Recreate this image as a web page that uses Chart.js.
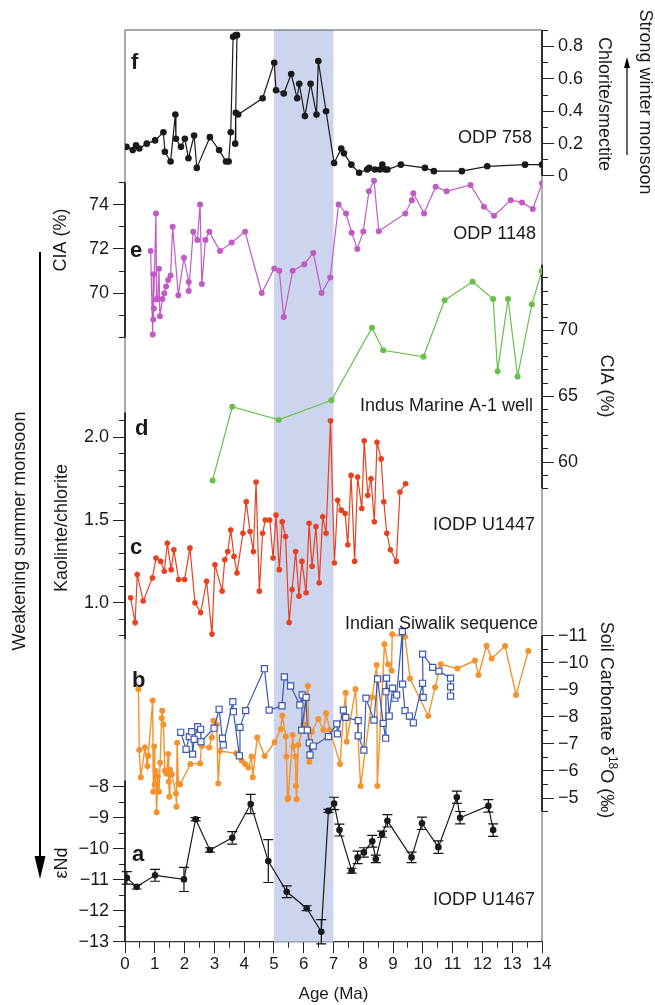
<!DOCTYPE html>
<html><head><meta charset="utf-8">
<script src="https://cdn.jsdelivr.net/npm/chart.js@4.4.1/dist/chart.umd.min.js"></script>
<style>html,body{margin:0;padding:0;background:#fff;}canvas{display:block;}</style>
</head><body>
<canvas id="c" width="655" height="1005"></canvas>
<script>
// ---------------- DATA ----------------
const ageRange = [0, 14];
const bandRange = [5, 7];
const xTickLabels = [0,1,2,3,4,5,6,7,8,9,10,11,12,13,14];

// f: ODP 758 chlorite/smectite
const odp758Age = [0.05,0.26,0.37,0.48,0.73,1.01,1.29,1.34,1.53,1.69,1.71,1.88,2.01,2.13,2.32,2.41,2.85,3.16,3.39,3.48,3.55,3.63,3.72,3.76,3.70,3.72,3.80,4.62,5.01,5.07,5.33,5.58,5.78,5.85,6.04,6.23,6.43,6.49,6.75,7.02,7.26,7.35,7.60,7.86,8.13,8.20,8.39,8.56,8.64,8.74,8.81,9.26,10.07,10.37,11.31,12.16,13.43,14.0];
const odp758Val = [0.18,0.16,0.19,0.17,0.20,0.22,0.27,0.15,0.09,0.38,0.23,0.18,0.23,0.11,0.25,0.05,0.24,0.16,0.09,0.09,0.27,0.86,0.87,0.87,0.20,0.39,0.38,0.48,0.70,0.53,0.51,0.63,0.48,0.57,0.37,0.57,0.38,0.71,0.40,0.08,0.17,0.14,0.07,0.02,0.04,0.05,0.04,0.04,0.07,0.04,0.04,0.07,0.05,0.03,0.03,0.06,0.07,0.07];

// e: ODP 1148 CIA
const odp1148Age = [0.86,0.93,0.95,0.95,0.97,1.04,1.06,1.10,1.14,1.17,1.26,1.32,1.38,1.45,1.53,1.60,1.79,1.98,2.14,2.14,2.29,2.43,2.52,2.58,2.70,2.83,3.19,3.58,4.03,4.59,5.01,5.18,5.33,5.63,6.02,6.32,6.60,6.89,7.17,7.42,7.61,7.80,8.00,8.19,8.36,8.52,9.41,9.63,9.68,10.04,10.43,10.80,11.60,12.05,12.39,12.95,13.33,13.69,14.0];
const odp1148Val = [71.91,68.14,70.86,68.81,69.31,73.6,69.71,69.76,71.1,68.96,69.74,70.0,70.3,70.6,70.8,73.0,69.91,71.6,70.51,70.1,72.77,72.4,74.01,70.41,72.4,72.77,71.9,72.29,72.77,70.01,71.12,71.01,68.93,71.01,71.31,71.82,70.01,70.71,74.01,73.6,72.73,72.0,72.79,74.6,75.08,72.8,73.6,74.2,74.51,73.6,74.81,74.6,74.89,73.9,73.5,74.2,74.1,73.8,74.96];

// d: Indus Marine A-1 well CIA
const indusAge = [2.94,3.60,5.16,6.93,8.29,8.67,10.02,10.73,11.67,12.36,12.51,12.86,13.18,13.66,13.99];
const indusVal = [58.6,64.2,63.2,64.7,70.2,68.5,68.0,72.3,73.7,72.4,66.9,72.4,66.5,72.0,74.5];

// c: IODP U1447 kaolinite/chlorite
const u1447Age = [0.19,0.34,0.41,0.61,0.92,1.04,1.20,1.32,1.42,1.55,1.64,1.80,2.00,2.18,2.35,2.54,2.74,2.92,3.02,3.26,3.35,3.45,3.55,3.66,3.76,3.96,4.07,4.20,4.31,4.40,4.51,4.62,4.71,4.86,4.97,5.07,5.18,5.28,5.39,5.51,5.61,5.73,5.84,5.94,6.08,6.18,6.28,6.41,6.52,6.64,6.75,6.90,7.03,7.14,7.26,7.39,7.48,7.59,7.71,7.81,7.95,8.03,8.15,8.26,8.37,8.46,8.60,8.69,8.79,8.91,9.11,9.23,9.42];
const u1447Val = [1.03,0.88,1.17,1.01,1.15,1.27,1.25,1.19,1.36,1.20,1.32,1.14,1.14,1.33,1.00,0.94,1.13,0.81,1.23,1.07,1.26,1.31,1.44,1.28,1.18,1.42,1.61,1.43,1.31,1.73,1.07,1.42,1.50,1.50,1.27,1.53,1.20,1.49,1.40,0.88,1.08,1.31,1.04,1.25,1.06,1.48,1.22,1.46,1.12,1.52,1.42,2.10,1.24,1.62,1.56,1.54,1.35,1.77,1.25,1.76,1.57,1.98,1.65,1.75,1.49,1.97,1.87,1.61,1.42,1.32,1.25,1.67,1.72];

// b: soil carbonate d18O (orange) and Indian Siwalik (blue squares)
const soilAge = [0.45,0.48,0.53,0.67,0.75,0.78,0.93,0.95,0.98,1.00,1.03,1.06,1.10,1.14,1.18,1.23,1.25,1.29,1.34,1.40,1.45,1.47,1.49,1.51,1.57,1.71,1.73,1.75,1.79,1.85,2.20,2.52,2.57,2.83,2.91,2.97,3.08,3.13,3.19,3.73,3.92,4.03,4.14,4.25,4.29,4.44,4.69,5.02,5.23,5.28,5.40,5.42,5.46,5.48,5.63,5.65,5.72,5.74,5.76,5.82,5.99,6.14,6.19,6.27,6.49,6.66,6.75,6.88,7.22,7.33,7.41,7.44,7.74,7.91,8.30,8.45,8.47,8.71,8.83,8.95,8.97,9.40,9.57,10.18,10.41,10.60,11.16,11.75,11.87,12.14,12.31,12.76,13.13,13.54];
const soilVal = [-9.02,-6.77,-5.77,-6.87,-6.18,-6.56,-8.60,-5.23,-6.90,-5.5,-6.0,-4.47,-5.8,-5.23,-6.3,-7.95,-8.23,-7.72,-6.01,-5.9,-6.63,-5.6,-5.05,-6.04,-5.88,-5.17,-4.68,-7.04,-5.54,-5.5,-6.26,-6.28,-6.92,-6.87,-7.24,-7.86,-7.72,-5.54,-6.74,-6.65,-6.38,-6.26,-6.13,-6.53,-5.77,-7.24,-6.55,-7.06,-7.54,-8.04,-7.27,-6.53,-4.95,-5.01,-7.33,-6.90,-6.53,-5.44,-4.95,-6.96,-7.72,-9.14,-6.34,-7.45,-7.92,-7.51,-8.13,-7.51,-6.26,-8.03,-8.89,-7.08,-9.02,-5.44,-8.72,-9.92,-5.44,-10.68,-9.94,-9.70,-11.05,-10.96,-9.42,-8.03,-9.09,-9.94,-9.79,-10.08,-9.55,-10.63,-10.16,-10.62,-8.81,-10.43];
const siwalikAge = [1.87,2.05,2.16,2.24,2.27,2.32,2.44,2.54,2.55,2.99,3.16,3.27,3.30,3.62,3.64,3.84,3.86,4.05,4.68,4.84,5.27,5.35,5.56,5.87,5.95,5.93,6.08,6.12,6.19,6.21,6.32,6.83,7.11,7.13,7.33,7.41,7.83,7.83,8.02,8.09,8.36,8.48,8.67,8.75,8.76,8.78,8.87,8.98,9.06,9.12,9.31,9.32,9.40,9.55,9.68,9.99,10.01,9.99,10.33,10.54,10.93,10.93,10.93];
const siwalikVal = [-7.43,-6.80,-7.27,-7.45,-6.62,-7.17,-7.64,-7.54,-7.08,-7.58,-8.28,-7.21,-6.96,-8.56,-8.19,-6.56,-7.61,-8.23,-9.78,-8.25,-8.41,-9.48,-9.14,-8.44,-8.81,-7.51,-8.72,-7.51,-7.04,-6.59,-6.92,-7.27,-7.74,-7.37,-8.25,-7.98,-7.86,-7.30,-6.77,-8.69,-7.88,-9.40,-7.76,-7.21,-8.93,-9.43,-8.03,-9.06,-8.69,-8.81,-11.15,-9.21,-8.23,-8.03,-7.78,-9.24,-8.72,-10.32,-9.83,-9.69,-9.43,-9.11,-8.77];

// a: IODP U1467 eNd with errors
const u1467Age = [0.06,0.39,1.01,1.98,2.37,2.85,3.60,4.22,4.81,5.43,6.10,6.59,6.83,7.02,7.20,7.61,7.81,8.02,8.30,8.42,8.63,8.81,9.62,9.97,10.52,11.14,11.25,12.20,12.36];
const u1467Val = [-10.94,-11.23,-10.86,-10.99,-9.05,-10.04,-9.65,-8.56,-10.40,-11.39,-11.92,-12.68,-8.78,-8.54,-9.40,-10.71,-10.28,-10.12,-9.76,-10.33,-9.53,-9.10,-10.28,-9.18,-9.95,-8.34,-9.00,-8.62,-9.40];
const u1467Err = [0.2,0.07,0.19,0.39,0.05,0.07,0.2,0.31,0.69,0.19,0.08,0.39,0.05,0.2,0.19,0.08,0.2,0.15,0.19,0.12,0.1,0.2,0.17,0.2,0.2,0.2,0.2,0.2,0.2];

// axis tick labels
const yFLabels = [0,0.2,0.4,0.6,0.8];
const yELabels = [70,72,74];
const yDLabels = [60,65,70];
const yCLabels = [1.0,1.5,2.0];
const yBLabels = [-11,-10,-9,-8,-7,-6,-5];
const yALabels = [-13,-12,-11,-10,-9,-8];

// ---------------- LAYOUT ----------------
const W = 655, H = 1005;
const PLOT_TOP = 30, PLOT_BOTTOM = 941.7, PLOT_LEFT = 125, PLOT_RIGHT = 542;
const FONT = '"Liberation Sans", Arial, Helvetica, sans-serif';
Chart.defaults.font.family = FONT;
Chart.defaults.color = '#1a1a1a';

function steps(a, b, s) { const out = []; const n = Math.round((b - a) / s); for (let i = 0; i <= n; i++) out.push(+(a + i * s).toFixed(4)); return out; }
function isIn(v, arr) { return arr.some(a => Math.abs(a - v) < 1e-6); }
function fitRange(v1, p1, v2, p2) {
  const at = p => v1 + (p - p1) * (v2 - v1) / (p2 - p1);
  const vt = at(PLOT_TOP), vb = at(PLOT_BOTTOM);
  return vt > vb ? {min: vb, max: vt, reverse: false} : {min: vt, max: vb, reverse: true};
}
const minus = v => (v < 0 ? '\u2212' : '') + Math.abs(v);
const axisSpans = {yF: [0, 0.9], yE: [68, 75], yD: [58, 75], yC: [0.78, 2.15], yB: [-11, -4.5], yA: [-13, -7.8]};

function yScale(pos, anchors, tickVals, labelVals, fmt) {
  const r = fitRange(...anchors);
  return {
    type: 'linear', position: pos, min: r.min, max: r.max, reverse: r.reverse,
    afterFit: s => { s.width = 0; },
    afterBuildTicks: s => { s.ticks = tickVals.map(v => ({value: v})); },
    border: {display: false},
    grid: {display: true, drawOnChartArea: false, drawTicks: true, tickLength: 12, tickColor: '#222', tickWidth: 1,
      tickBorderDash: c => (c.tick && isIn(c.tick.value, labelVals)) ? [] : (pos === 'left' ? [0, 6, 6, 100] : [6, 100])},
    ticks: {autoSkip: false, padding: 4, color: '#1a1a1a', font: {size: 18, family: FONT},
      callback: v => isIn(v, labelVals) ? fmt(v) : ''}
  };
}

function series(ages, vals, yID, color, extra) {
  return Object.assign({
    data: ages.map((a, i) => ({x: a, y: vals[i]})), yAxisID: yID, xAxisID: 'x', showLine: true,
    borderColor: color, backgroundColor: color, pointBackgroundColor: color, pointBorderColor: color,
    borderWidth: 1.2, pointRadius: 3, pointBorderWidth: 0, pointHoverRadius: 3, tension: 0
  }, extra || {});
}

const decor = {
  id: 'decor',
  afterLayout(chart) {
    // widen the zero-width y scale boxes outward so their tick labels are not clipped
    for (const id in axisSpans) {
      const s = chart.scales[id];
      if (s.position === 'left') s.left = 0; else s.right = chart.width;
      s.width = s.right - s.left;
    }
  },
  beforeDatasetsDraw(chart) {
    const {ctx, chartArea: a, scales} = chart;
    const x = scales.x;
    ctx.save();
    const xb0 = x.getPixelForValue(bandRange[0]), xb1 = x.getPixelForValue(bandRange[1]);
    ctx.fillStyle = '#cdd5ee';
    ctx.fillRect(xb0, a.top, xb1 - xb0, a.bottom - a.top);
    ctx.strokeStyle = '#555'; ctx.lineWidth = 1;
    ctx.beginPath();
    ctx.moveTo(a.left, a.bottom); ctx.lineTo(a.left, a.top); ctx.lineTo(a.right, a.top); ctx.lineTo(a.right, a.bottom);
    ctx.stroke();
    ctx.strokeStyle = '#111'; ctx.lineWidth = 1.6;
    for (const id in axisSpans) {
      const s = scales[id], sp = axisSpans[id];
      const px = s.position === 'left' ? a.left : a.right;
      ctx.beginPath(); ctx.moveTo(px, s.getPixelForValue(sp[0])); ctx.lineTo(px, s.getPixelForValue(sp[1])); ctx.stroke();
    }
    // error bars for panel a
    const yA = scales.yA;
    ctx.strokeStyle = '#111'; ctx.lineWidth = 1.2;
    u1467Age.forEach((ag, i) => {
      const px = x.getPixelForValue(ag);
      const p1 = yA.getPixelForValue(u1467Val[i] - u1467Err[i]);
      const p2 = yA.getPixelForValue(u1467Val[i] + u1467Err[i]);
      ctx.beginPath();
      ctx.moveTo(px, p1); ctx.lineTo(px, p2);
      ctx.moveTo(px - 5, p1); ctx.lineTo(px + 5, p1);
      ctx.moveTo(px - 5, p2); ctx.lineTo(px + 5, p2);
      ctx.stroke();
    });
    ctx.restore();
  },
  afterDraw(chart) {
    const ctx = chart.ctx;
    ctx.save();
    ctx.fillStyle = '#1a1a1a';
    // panel letters
    ctx.font = 'bold 22px ' + FONT; ctx.textAlign = 'left'; ctx.textBaseline = 'middle';
    [['f', 131, 63], ['e', 130, 251], ['d', 135, 429], ['c', 130, 548], ['b', 132, 681], ['a', 132, 855]]
      .forEach(([t, x, y]) => ctx.fillText(t, x, y));
    // site names
    ctx.font = '18px ' + FONT; ctx.textAlign = 'right';
    [['ODP 758', 532, 138], ['ODP 1148', 536, 234], ['Indus Marine A-1 well', 533, 406], ['IODP U1447', 535, 525],
     ['Indian Siwalik sequence', 538, 624], ['IODP U1467', 535, 900]].forEach(([t, x, y]) => ctx.fillText(t, x, y));
    // rotated titles
    const rot = (t, x, y, ang) => { ctx.save(); ctx.translate(x, y); ctx.rotate(ang); ctx.textAlign = 'center'; ctx.textBaseline = 'middle'; ctx.fillText(t, 0, 0); ctx.restore(); };
    const L = -Math.PI / 2, R = Math.PI / 2;
    rot('CIA (%)', 61, 240, L);
    rot('Kaolinte/chlorite', 62, 528, L);
    rot('Weakening summer monsoon', 20, 531, L);
    rot('\u03b5Nd', 62, 863, L);
    rot('Chlorite/smectite', 604, 104, R);
    rot('Strong winter monsoon', 645, 102, R);
    rot('CIA (%)', 606, 386, R);
    // Soil carbonate d18O with superscript
    ctx.save(); ctx.translate(606, 720); ctx.rotate(R); ctx.textBaseline = 'middle'; ctx.textAlign = 'left';
    const p1 = 'Soil Carbonate \u03b4', p2 = '18', p3 = 'O (\u2030)';
    ctx.font = '18px ' + FONT; const w1 = ctx.measureText(p1).width, w3 = ctx.measureText(p3).width;
    ctx.font = '12px ' + FONT; const w2 = ctx.measureText(p2).width;
    let sx = -(w1 + w2 + w3) / 2;
    ctx.font = '18px ' + FONT; ctx.fillText(p1, sx, 0); sx += w1;
    ctx.font = '12px ' + FONT; ctx.fillText(p2, sx, -6); sx += w2;
    ctx.font = '18px ' + FONT; ctx.fillText(p3, sx, 0);
    ctx.restore();
    // arrows
    ctx.strokeStyle = '#000'; ctx.fillStyle = '#000';
    ctx.lineWidth = 2;
    ctx.beginPath(); ctx.moveTo(40, 252); ctx.lineTo(40, 862); ctx.stroke();
    ctx.beginPath(); ctx.moveTo(34.5, 856); ctx.lineTo(45.5, 856); ctx.lineTo(40, 879); ctx.closePath(); ctx.fill();
    ctx.lineWidth = 1.2;
    ctx.beginPath(); ctx.moveTo(627, 155); ctx.lineTo(627, 66); ctx.stroke();
    ctx.beginPath(); ctx.moveTo(624, 68); ctx.lineTo(630, 68); ctx.lineTo(627, 57); ctx.closePath(); ctx.fill();
    ctx.restore();
  }
};

const black = '#1a1a1a', magenta = '#c15ac6', green = '#6abf4b', red = '#e8411f', orange = '#f4922b', blue = '#3a58b0';

new Chart(document.getElementById('c'), {
  type: 'scatter',
  data: {datasets: [
    series(u1467Age, u1467Val, 'yA', black, {pointRadius: 3.3}),
    series(siwalikAge, siwalikVal, 'yB', blue, {pointStyle: 'rect', pointRadius: 4.3, pointBackgroundColor: '#fff', pointBorderColor: blue, pointBorderWidth: 1.2}),
    series(soilAge, soilVal, 'yB', orange, {borderWidth: 1.4}),
    series(u1447Age, u1447Val, 'yC', red, {pointRadius: 2.8}),
    series(indusAge, indusVal, 'yD', green),
    series(odp1148Age, odp1148Val, 'yE', magenta),
    series(odp758Age, odp758Val, 'yF', black, {pointRadius: 3.3})
  ]},
  options: {
    responsive: false, animation: false, devicePixelRatio: 1,
    layout: {padding: {left: PLOT_LEFT, right: W - PLOT_RIGHT, top: PLOT_TOP, bottom: 0}},
    plugins: {legend: {display: false}, tooltip: {enabled: false}},
    scales: {
      x: {
        type: 'linear', position: 'bottom', min: ageRange[0], max: ageRange[1],
        afterFit: s => { s.height = H - PLOT_BOTTOM; },
        afterBuildTicks: s => { s.ticks = steps(ageRange[0], ageRange[1], 0.5).map(v => ({value: v})); },
        border: {display: true, color: '#333', width: 1.2},
        grid: {display: true, drawOnChartArea: false, tickLength: 11.5, tickColor: '#222', tickWidth: 1,
          tickBorderDash: c => (c.tick && isIn(c.tick.value, xTickLabels)) ? [] : [5.5, 100]},
        ticks: {autoSkip: false, maxRotation: 0, minRotation: 0, padding: 1, color: '#1a1a1a', font: {size: 17, family: FONT},
          callback: v => isIn(v, xTickLabels) ? String(Math.round(v)) : ''},
        title: {display: true, text: 'Age (Ma)', color: '#1a1a1a', font: {size: 17, family: FONT}, padding: {top: 0, bottom: 0}}
      },
      yF: yScale('right', [0, 176, 0.8, 46.5], steps(0, 0.9, 0.1), yFLabels, v => v === 0 ? '0' : v.toFixed(1)),
      yE: yScale('left', [70, 293.2, 74, 204.6], steps(68, 75, 1), yELabels, v => String(v)),
      yD: yScale('right', [70, 330.5, 60, 462], steps(58, 74, 1), yDLabels, v => String(v)),
      yC: yScale('left', [1.0, 602.7, 2.0, 437.4], steps(0.8, 2.1, 0.1), yCLabels, v => v.toFixed(1)),
      yB: yScale('right', [-11, 635.7, -5, 798], steps(-11, -4.5, 0.5), yBLabels, minus),
      yA: yScale('left', [-8, 786.7, -13, 941.7], steps(-13, -8, 0.5), yALabels, minus)
    }
  },
  plugins: [decor]
});
</script>
</body></html>
